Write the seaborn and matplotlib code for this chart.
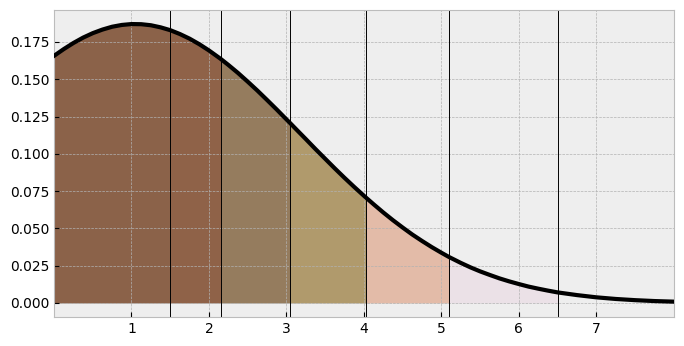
import matplotlib
matplotlib.use("Agg")
import matplotlib.pyplot as plt
import seaborn as sns
import numpy as np

plt.style.use("bmh")

# Curve samples
x_vals = [0.0, 0.125, 0.25, 0.375, 0.5, 0.625, 0.75, 0.875, 1.0, 1.125, 1.25, 1.375,
          1.5, 1.625, 1.75, 1.875, 2.0, 2.15, 2.25, 2.375, 2.5, 2.625, 2.75, 2.875,
          3.0, 3.05, 3.125, 3.25, 3.375, 3.5, 3.625, 3.75, 3.875, 4.0, 4.03, 4.125,
          4.25, 4.375, 4.5, 4.625, 4.75, 4.875, 5.0, 5.1, 5.25, 5.375, 5.5, 5.625,
          5.75, 5.875, 6.0, 6.125, 6.25, 6.375, 6.5, 6.625, 6.75, 7.0, 7.25, 7.5,
          7.75, 8.0]
y_vals = [0.1657, 0.1702, 0.1743, 0.1779, 0.1809, 0.1833, 0.1852, 0.1864, 0.1870,
          0.1869, 0.1862, 0.1848, 0.1829, 0.1803, 0.1772, 0.1735, 0.1693, 0.1637,
          0.1596, 0.1542, 0.1484, 0.1424, 0.1361, 0.1297, 0.1231, 0.1205, 0.1165,
          0.1099, 0.1032, 0.0967, 0.0902, 0.0839, 0.0778, 0.0719, 0.0705, 0.0662,
          0.0607, 0.0555, 0.0506, 0.0459, 0.0416, 0.0375, 0.0337, 0.0308, 0.0269,
          0.0239, 0.0212, 0.0188, 0.0165, 0.0145, 0.0127, 0.0110, 0.0096, 0.0083,
          0.0071, 0.0062, 0.0053, 0.0038, 0.0027, 0.0019, 0.0013, 0.0009]

# Region boundaries (vertical lines) and fill colours
bounds = [0.0, 1.5, 2.15, 3.05, 4.03, 5.1, 6.5]
fill_colors = ["#8b6249", "#8f6248", "#957c5e", "#b09a6c", "#e3bba8", "#ebe1e7"]
xticks = [1, 2, 3, 4, 5, 6, 7]

x = np.array(x_vals)
y = np.array(y_vals)

fig = plt.figure(figsize=(6.84, 3.46), dpi=100)
ax = fig.add_axes([0.079, 0.084, 0.906, 0.887])

for i, c in enumerate(fill_colors):
    a, b = bounds[i], bounds[i + 1]
    m = (x >= a - 1e-9) & (x <= b + 1e-9)
    ax.fill_between(x[m], 0, y[m], color=c, linewidth=0, zorder=1)

for v in bounds[1:]:
    ax.axvline(v, color="black", lw=0.7, zorder=2)

sns.lineplot(x=x, y=y, color="black", lw=3, ax=ax, zorder=3)

ax.set_xlim(0, 8)
ax.set_ylim(-0.00935, 0.1964)
ax.set_xticks(xticks)
ax.tick_params(direction="in", labelsize=10)
ax.set_xlabel("")
ax.set_ylabel("")

fig.savefig("out.png", dpi=100)
